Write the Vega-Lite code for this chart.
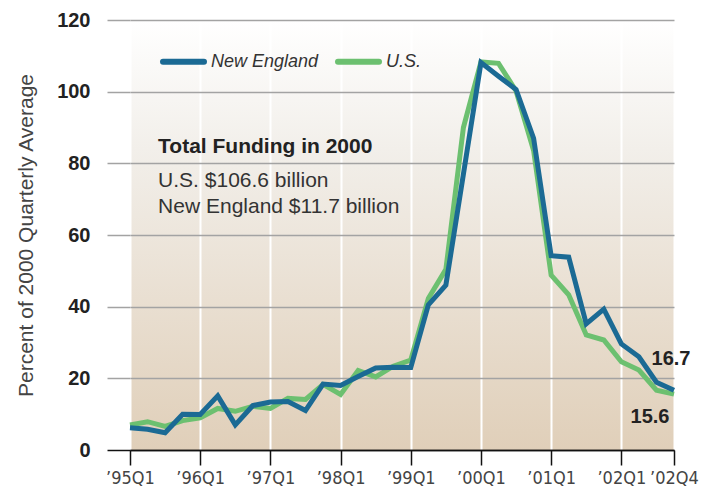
{
  "$schema": "https://vega.github.io/schema/vega-lite/v6.json",
  "width": 544,
  "height": 430,
  "autosize": {"type": "none"},
  "padding": {"left": 130, "top": 20, "right": 38, "bottom": 44},
  "background": "#ffffff",
  "view": {
    "stroke": null,
    "fill": {
      "gradient": "linear",
      "x1": 0, "y1": 0, "x2": 0, "y2": 1,
      "stops": [
        {"offset": 0, "color": "#ffffff"},
        {"offset": 0.3, "color": "#f2efea"},
        {"offset": 1, "color": "#e0cfb9"}
      ]
    }
  },
  "data": {
    "values": [
      {"q": "’95Q1", "series": "U.S.", "value": 7.0},
      {"q": "’95Q2", "series": "U.S.", "value": 7.9},
      {"q": "’95Q3", "series": "U.S.", "value": 6.6},
      {"q": "’95Q4", "series": "U.S.", "value": 8.2},
      {"q": "’96Q1", "series": "U.S.", "value": 9.0},
      {"q": "’96Q2", "series": "U.S.", "value": 11.6},
      {"q": "’96Q3", "series": "U.S.", "value": 10.8},
      {"q": "’96Q4", "series": "U.S.", "value": 12.2},
      {"q": "’97Q1", "series": "U.S.", "value": 11.6},
      {"q": "’97Q2", "series": "U.S.", "value": 14.4},
      {"q": "’97Q3", "series": "U.S.", "value": 14.1},
      {"q": "’97Q4", "series": "U.S.", "value": 18.3},
      {"q": "’98Q1", "series": "U.S.", "value": 15.5},
      {"q": "’98Q2", "series": "U.S.", "value": 22.2},
      {"q": "’98Q3", "series": "U.S.", "value": 20.4},
      {"q": "’98Q4", "series": "U.S.", "value": 23.4},
      {"q": "’99Q1", "series": "U.S.", "value": 25.1},
      {"q": "’99Q2", "series": "U.S.", "value": 42.3},
      {"q": "’99Q3", "series": "U.S.", "value": 50.4},
      {"q": "’99Q4", "series": "U.S.", "value": 90.0},
      {"q": "’00Q1", "series": "U.S.", "value": 108.3},
      {"q": "’00Q2", "series": "U.S.", "value": 107.9},
      {"q": "’00Q3", "series": "U.S.", "value": 100.2},
      {"q": "’00Q4", "series": "U.S.", "value": 83.6},
      {"q": "’01Q1", "series": "U.S.", "value": 48.8},
      {"q": "’01Q2", "series": "U.S.", "value": 43.3},
      {"q": "’01Q3", "series": "U.S.", "value": 32.1},
      {"q": "’01Q4", "series": "U.S.", "value": 30.7},
      {"q": "’02Q1", "series": "U.S.", "value": 24.6},
      {"q": "’02Q2", "series": "U.S.", "value": 22.3},
      {"q": "’02Q3", "series": "U.S.", "value": 16.7},
      {"q": "’02Q4", "series": "U.S.", "value": 15.6},
      {"q": "’95Q1", "series": "New England", "value": 6.2},
      {"q": "’95Q2", "series": "New England", "value": 5.8},
      {"q": "’95Q3", "series": "New England", "value": 4.8},
      {"q": "’95Q4", "series": "New England", "value": 10.0},
      {"q": "’96Q1", "series": "New England", "value": 9.9},
      {"q": "’96Q2", "series": "New England", "value": 15.1},
      {"q": "’96Q3", "series": "New England", "value": 7.0},
      {"q": "’96Q4", "series": "New England", "value": 12.4},
      {"q": "’97Q1", "series": "New England", "value": 13.4},
      {"q": "’97Q2", "series": "New England", "value": 13.5},
      {"q": "’97Q3", "series": "New England", "value": 11.0},
      {"q": "’97Q4", "series": "New England", "value": 18.4},
      {"q": "’98Q1", "series": "New England", "value": 18.0},
      {"q": "’98Q2", "series": "New England", "value": 20.5},
      {"q": "’98Q3", "series": "New England", "value": 22.9},
      {"q": "’98Q4", "series": "New England", "value": 23.1},
      {"q": "’99Q1", "series": "New England", "value": 23.0},
      {"q": "’99Q2", "series": "New England", "value": 40.5},
      {"q": "’99Q3", "series": "New England", "value": 46.0},
      {"q": "’99Q4", "series": "New England", "value": 77.0},
      {"q": "’00Q1", "series": "New England", "value": 108.1},
      {"q": "’00Q2", "series": "New England", "value": 104.3},
      {"q": "’00Q3", "series": "New England", "value": 100.6},
      {"q": "’00Q4", "series": "New England", "value": 87.0},
      {"q": "’01Q1", "series": "New England", "value": 54.2},
      {"q": "’01Q2", "series": "New England", "value": 53.8},
      {"q": "’01Q3", "series": "New England", "value": 35.2},
      {"q": "’01Q4", "series": "New England", "value": 39.3},
      {"q": "’02Q1", "series": "New England", "value": 29.6},
      {"q": "’02Q2", "series": "New England", "value": 26.0},
      {"q": "’02Q3", "series": "New England", "value": 18.9},
      {"q": "’02Q4", "series": "New England", "value": 16.7}
    ]
  },
  "encoding": {
    "x": {
      "field": "q",
      "type": "ordinal",
      "scale": {
        "type": "point",
        "padding": 0,
        "domain": ["’95Q1","’95Q2","’95Q3","’95Q4","’96Q1","’96Q2","’96Q3","’96Q4","’97Q1","’97Q2","’97Q3","’97Q4","’98Q1","’98Q2","’98Q3","’98Q4","’99Q1","’99Q2","’99Q3","’99Q4","’00Q1","’00Q2","’00Q3","’00Q4","’01Q1","’01Q2","’01Q3","’01Q4","’02Q1","’02Q2","’02Q3","’02Q4"]
      },
      "axis": {
        "title": null,
        "values": ["’95Q1","’96Q1","’97Q1","’98Q1","’99Q1","’00Q1","’01Q1","’02Q1","’02Q4"],
        "labelAngle": 0,
        "labelOverlap": false,
        "labelFont": "DejaVu Sans Condensed",
        "labelFontSize": 18,
        "labelColor": "#444444",
        "labelPadding": 4,
        "tickSize": 15,
        "tickWidth": 1.5,
        "tickColor": "#111111",
        "domainColor": "#111111",
        "domainWidth": 1.5,
        "grid": true,
        "gridColor": "#ffffff",
        "gridWidth": 2
      }
    },
    "y": {
      "field": "value",
      "type": "quantitative",
      "scale": {"domain": [0, 120], "nice": false},
      "axis": {
        "title": "Percent of 2000 Quarterly Average",
        "values": [0, 20, 40, 60, 80, 100, 120],
        "domain": false,
        "labelFont": "Liberation Sans",
        "labelFontWeight": "bold",
        "labelFontSize": 20,
        "labelColor": "#222222",
        "labelPadding": 17,
        "tickSize": 23,
        "tickWidth": 1.5,
        "tickColor": {"condition": {"test": "datum.value === 0", "value": "#111111"}, "value": "#a3a3a3"},
        "grid": true,
        "gridWidth": 1.5,
        "gridColor": {"condition": {"test": "datum.value === 0", "value": "#111111"}, "value": "#a3a3a3"},
        "titleFont": "Liberation Sans",
        "titleFontSize": 21,
        "titleFontWeight": "normal",
        "titleColor": "#444444",
        "titlePadding": 20
      }
    }
  },
  "layer": [
    {
      "mark": {"type": "line", "strokeWidth": 5},
      "encoding": {
        "color": {
          "field": "series",
          "type": "nominal",
          "scale": {"domain": ["New England", "U.S."], "range": ["#1b6a94", "#6cc070"]},
          "legend": {
            "title": null,
            "orient": "none",
            "legendX": 30,
            "legendY": 18,
            "direction": "horizontal",
            "symbolType": "stroke",
            "symbolSize": 1681,
            "symbolStrokeWidth": 6,
            "labelFont": "Liberation Sans",
            "labelFontStyle": "italic",
            "labelFontSize": 18,
            "labelColor": "#333333",
            "labelOffset": 4,
            "columnPadding": 7,
            "encode": {"symbols": {"update": {"strokeCap": {"value": "round"}}}}
          }
        }
      }
    },
    {
      "transform": [{"filter": "datum.series === 'New England' && datum.q === '’02Q4'"}],
      "mark": {"type": "text", "font": "Liberation Sans", "fontWeight": "bold", "fontSize": 20, "color": "#222222", "align": "center", "baseline": "middle", "dx": -3, "dy": -31},
      "encoding": {"text": {"field": "value", "type": "quantitative", "format": ".1f"}}
    },
    {
      "transform": [{"filter": "datum.series === 'U.S.' && datum.q === '’02Q4'"}],
      "mark": {"type": "text", "font": "Liberation Sans", "fontWeight": "bold", "fontSize": 20, "color": "#222222", "align": "center", "baseline": "middle", "dx": -24, "dy": 23},
      "encoding": {"text": {"field": "value", "type": "quantitative", "format": ".1f"}}
    },
    {
      "transform": [{"filter": "datum.series === 'U.S.' && datum.q === '’95Q3'"}],
      "mark": {"type": "text", "text": "Total Funding in 2000", "font": "Liberation Sans", "fontWeight": "bold", "fontSize": 21, "color": "#222222", "align": "left", "baseline": "middle", "dx": -7},
      "encoding": {"y": {"datum": 84.5, "type": "quantitative"}}
    },
    {
      "transform": [{"filter": "datum.series === 'U.S.' && datum.q === '’95Q3'"}],
      "mark": {"type": "text", "text": "U.S. $106.6 billion", "font": "Liberation Sans", "fontSize": 21, "color": "#333333", "align": "left", "baseline": "middle", "dx": -7},
      "encoding": {"y": {"datum": 75.2, "type": "quantitative"}}
    },
    {
      "transform": [{"filter": "datum.series === 'U.S.' && datum.q === '’95Q3'"}],
      "mark": {"type": "text", "text": "New England $11.7 billion", "font": "Liberation Sans", "fontSize": 21, "color": "#333333", "align": "left", "baseline": "middle", "dx": -7},
      "encoding": {"y": {"datum": 67.9, "type": "quantitative"}}
    }
  ]
}
